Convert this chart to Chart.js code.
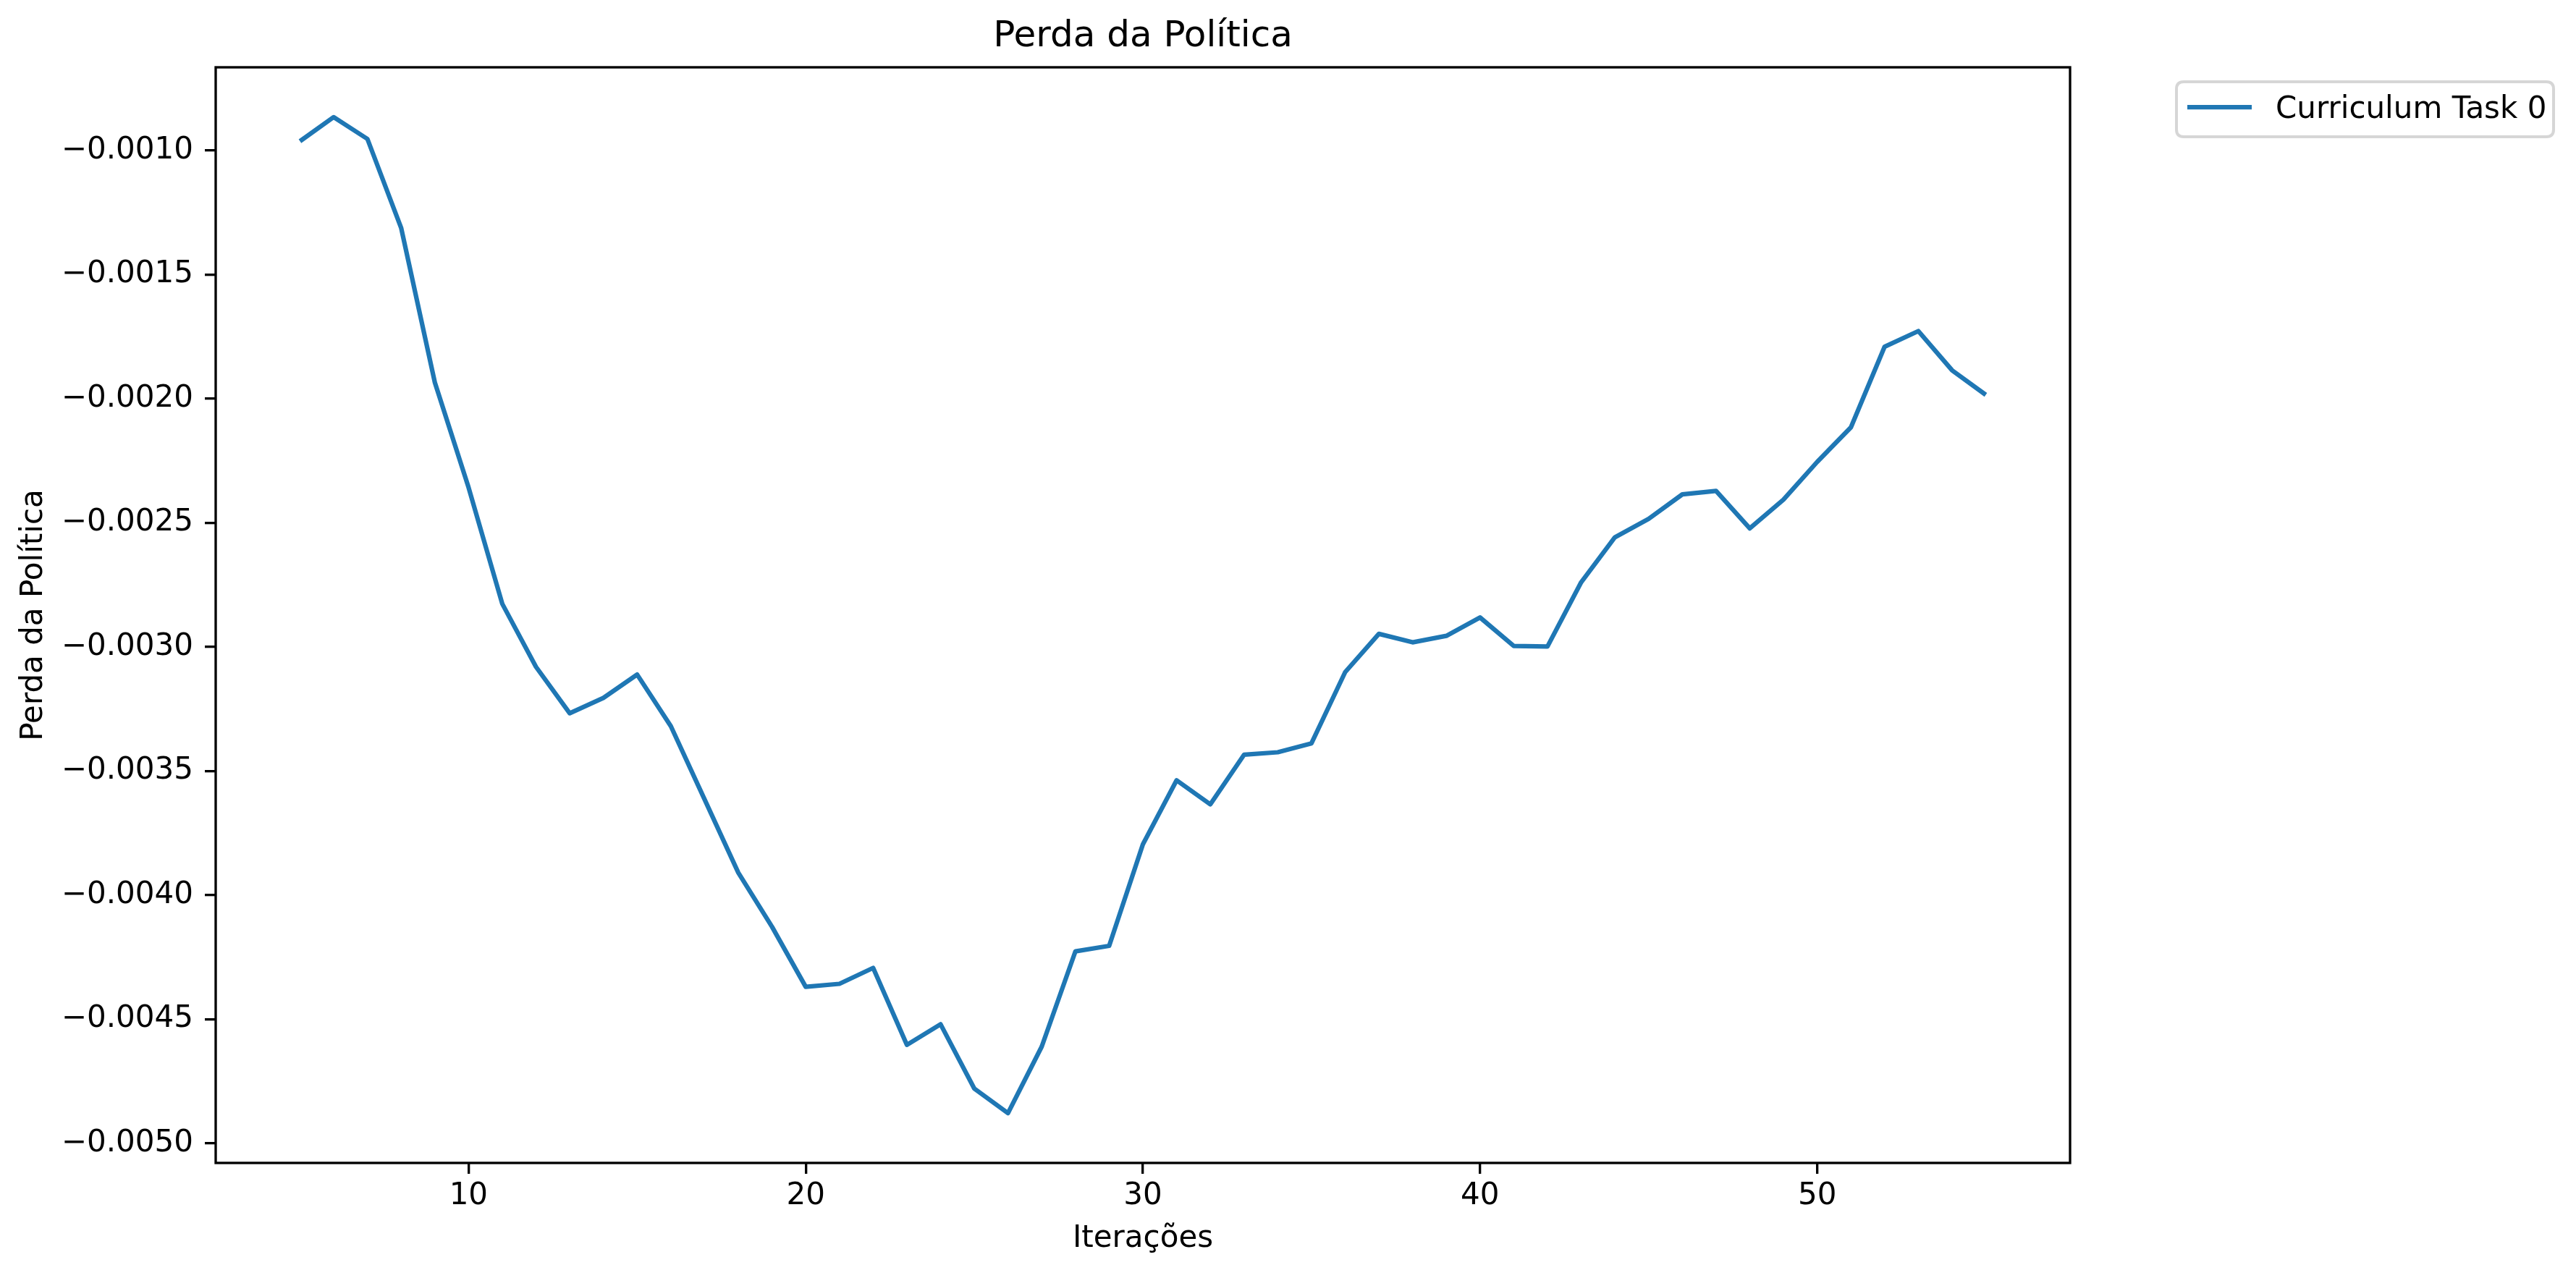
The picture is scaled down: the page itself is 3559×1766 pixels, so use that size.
<!DOCTYPE html>
<html>
<head>
<meta charset="utf-8">
<script src="https://cdn.jsdelivr.net/npm/chart.js@4.4.1/dist/chart.umd.min.js"></script>
<style>
  html, body { margin: 0; padding: 0; background: #ffffff; }
  canvas { display: block; }
</style>
</head>
<body>
<canvas id="c" width="3559" height="1766" style="width:3559px;height:1766px"></canvas>
<script>
// ---- data ----
const iterations = [5,6,7,8,9,10,11,12,13,14,15,16,17,18,19,20,21,22,23,24,25,26,27,28,29,30,
                    31,32,33,34,35,36,37,38,39,40,41,42,43,44,45,46,47,48,49,50,51,52,53,54,55];
const policyLoss = [-0.000963,-0.000866,-0.000954,-0.001312,-0.001935,-0.002358,-0.002827,-0.003081,
                    -0.003268,-0.003206,-0.003112,-0.003320,-0.003615,-0.003910,-0.004128,-0.004370,
                    -0.004358,-0.004294,-0.004604,-0.004521,-0.004780,-0.004879,-0.004611,-0.004227,
                    -0.004205,-0.003796,-0.003538,-0.003635,-0.003435,-0.003425,-0.003389,-0.003102,
                    -0.002948,-0.002982,-0.002956,-0.002882,-0.002997,-0.002999,-0.002740,-0.002559,
                    -0.002485,-0.002386,-0.002372,-0.002523,-0.002407,-0.002255,-0.002116,-0.001791,
                    -0.001728,-0.001886,-0.001985];
const seriesLabel = 'Curriculum Task 0';
const xTicks = [10, 20, 30, 40, 50];
const yTicks = [-0.0050, -0.0045, -0.0040, -0.0035, -0.0030, -0.0025, -0.0020, -0.0015, -0.0010];
const chartTitle = 'Perda da Política';
const xTitle = 'Iterações';
const yTitle = 'Perda da Política';

// matplotlib-like 5% margins
const xMinD = Math.min(...iterations), xMaxD = Math.max(...iterations);
const yMinD = Math.min(...policyLoss), yMaxD = Math.max(...policyLoss);
const xPad = (xMaxD - xMinD) * 0.05, yPad = (yMaxD - yMinD) * 0.05;

const FONT = 'DejaVu Sans';
const BLUE = '#1f77b4';
const SPINE = 3.33;

const framePlugin = {
  id: 'frameAndLegend',
  afterDraw(chart) {
    const ctx = chart.ctx;
    const a = chart.chartArea;
    ctx.save();
    // axes box (spines)
    ctx.strokeStyle = '#000000';
    ctx.lineWidth = SPINE;
    ctx.lineJoin = 'miter';
    ctx.strokeRect(a.left, a.top, a.right - a.left, a.bottom - a.top);

    // legend
    const ds = chart.data.datasets[0];
    const bx = 3007, by = 113, bw = 521, bh = 76, r = 10;
    ctx.beginPath();
    ctx.moveTo(bx + r, by);
    ctx.lineTo(bx + bw - r, by);
    ctx.quadraticCurveTo(bx + bw, by, bx + bw, by + r);
    ctx.lineTo(bx + bw, by + bh - r);
    ctx.quadraticCurveTo(bx + bw, by + bh, bx + bw - r, by + bh);
    ctx.lineTo(bx + r, by + bh);
    ctx.quadraticCurveTo(bx, by + bh, bx, by + bh - r);
    ctx.lineTo(bx, by + r);
    ctx.quadraticCurveTo(bx, by, bx + r, by);
    ctx.closePath();
    ctx.fillStyle = 'rgba(255,255,255,0.8)';
    ctx.fill();
    ctx.strokeStyle = '#d6d6d6';
    ctx.lineWidth = 4;
    ctx.stroke();

    ctx.beginPath();
    ctx.strokeStyle = ds.borderColor;
    ctx.lineWidth = ds.borderWidth;
    ctx.lineCap = 'butt';
    ctx.moveTo(3022, 148);
    ctx.lineTo(3111, 148);
    ctx.stroke();

    ctx.fillStyle = '#000000';
    ctx.font = '42px "' + FONT + '"';
    ctx.textAlign = 'left';
    ctx.textBaseline = 'alphabetic';
    ctx.fillText(ds.label, 3144, 163);
    ctx.restore();
  }
};

new Chart(document.getElementById('c'), {
  type: 'line',
  data: {
    datasets: [{
      label: seriesLabel,
      data: iterations.map((x, i) => ({ x: x, y: policyLoss[i] })),
      borderColor: BLUE,
      backgroundColor: BLUE,
      borderWidth: 6.25,
      pointRadius: 0,
      pointHoverRadius: 0,
      tension: 0,
      fill: false,
      borderCapStyle: 'butt',
      borderJoinStyle: 'round'
    }]
  },
  options: {
    responsive: false,
    animation: false,
    devicePixelRatio: 1,
    events: [],
    layout: { padding: { left: 0, top: 0, right: 699, bottom: 0 } },
    plugins: {
      legend: { display: false },
      tooltip: { enabled: false },
      title: {
        display: true,
        text: chartTitle,
        fullSize: false,
        color: '#000000',
        font: { family: FONT, size: 50, weight: 'normal', lineHeight: 1 },
        padding: { top: 25.7, bottom: 17.3 }
      }
    },
    scales: {
      x: {
        type: 'linear',
        min: xMinD - xPad,
        max: xMaxD + xPad,
        afterBuildTicks: (s) => { s.ticks = xTicks.map(v => ({ value: v })); },
        afterFit: (s) => { s.height = 159; },
        grid: { display: true, drawOnChartArea: false, drawTicks: true, tickLength: 15, color: '#000000', lineWidth: SPINE },
        border: { display: false },
        ticks: {
          color: '#000000',
          font: { family: FONT, size: 42, lineHeight: 1.2 },
          padding: 6,
          maxRotation: 0,
          autoSkip: false,
          callback: (v) => String(v)
        },
        title: {
          display: true,
          text: xTitle,
          color: '#000000',
          font: { family: FONT, size: 42, lineHeight: 1 },
          padding: { top: 0, bottom: 32.5 }
        }
      },
      y: {
        type: 'linear',
        min: yMinD - yPad,
        max: yMaxD + yPad,
        afterBuildTicks: (s) => { s.ticks = yTicks.map(v => ({ value: v })); },
        afterFit: (s) => { s.width = 298; },
        grid: { display: true, drawOnChartArea: false, drawTicks: true, tickLength: 15, color: '#000000', lineWidth: SPINE },
        border: { display: false },
        ticks: {
          color: '#000000',
          font: { family: FONT, size: 42, lineHeight: 1.2 },
          padding: 16,
          autoSkip: false,
          callback: (v) => '\u2212' + Math.abs(v).toFixed(4)
        },
        title: {
          display: true,
          text: yTitle,
          color: '#000000',
          font: { family: FONT, size: 42, lineHeight: 1 },
          padding: { top: 26.5, bottom: 0 }
        }
      }
    }
  },
  plugins: [framePlugin]
});
</script>
</body>
</html>
